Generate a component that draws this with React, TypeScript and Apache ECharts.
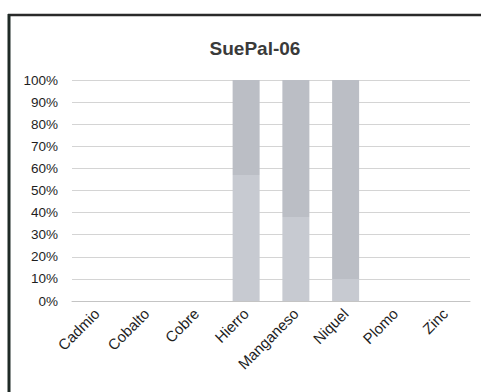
import React, { useEffect, useRef } from "react";
import * as echarts from "echarts";

const categories = ["Cadmio", "Cobalto", "Cobre", "Hierro", "Manganeso", "Niquel", "Plomo", "Zinc"];
const lowerFraction = [0, 0, 0, 57, 38, 10, 0, 0];
const upperFraction = [0, 0, 0, 43, 62, 90, 0, 0];
const titleText = "SuePal-06";

export default function App() {
  const ref = useRef<HTMLDivElement>(null);
  useEffect(() => {
    if (!ref.current) return;
    const chart = echarts.init(ref.current, null, { renderer: "svg" });
    const font = "'Liberation Sans', Arial, sans-serif";
    chart.setOption({
      animation: false,
      backgroundColor: "#ffffff",
      textStyle: { fontFamily: font },
      title: {
        text: titleText,
        left: 250,
        textAlign: "center",
        top: 34,
        textStyle: { fontSize: 19, fontWeight: "bold", color: "#3a3a3a", fontFamily: font },
      },
      grid: { left: 72, right: 11, top: 80, bottom: 91 },
      xAxis: {
        type: "category",
        data: categories,
        axisLine: { lineStyle: { color: "#c4c4c4" } },
        axisTick: { show: false },
        axisLabel: { rotate: 45, fontSize: 15, color: "#1e1e1e", margin: 10, interval: 0, fontFamily: font },
      },
      yAxis: {
        type: "value",
        min: 0,
        max: 100,
        interval: 10,
        axisLine: { show: false },
        axisTick: { show: false },
        axisLabel: { formatter: "{value}%", fontSize: 13.5, color: "#1e1e1e", margin: 14, fontFamily: font },
        splitLine: { lineStyle: { color: "#d4d4d4", width: 1 } },
      },
      series: [
        {
          name: "lower",
          type: "bar",
          stack: "total",
          barWidth: 27,
          data: lowerFraction,
          itemStyle: { color: "#c7cad1" },
        },
        {
          name: "upper",
          type: "bar",
          stack: "total",
          barWidth: 27,
          data: upperFraction,
          itemStyle: { color: "#bbbec5" },
        },
      ],
      graphic: [
        { type: "line", shape: { x1: 8, y1: 15, x2: 481, y2: 15 }, style: { stroke: "#2a2a2a", lineWidth: 2.5 } },
        { type: "line", shape: { x1: 9, y1: 14, x2: 9, y2: 392 }, style: { stroke: "#1f2a26", lineWidth: 3 } },
      ],
    });
    return () => chart.dispose();
  }, []);
  return (
    <div
      ref={ref}
      style={{ position: "fixed", left: 0, top: 0, width: 481, height: 392, background: "#fff" }}
    />
  );
}
